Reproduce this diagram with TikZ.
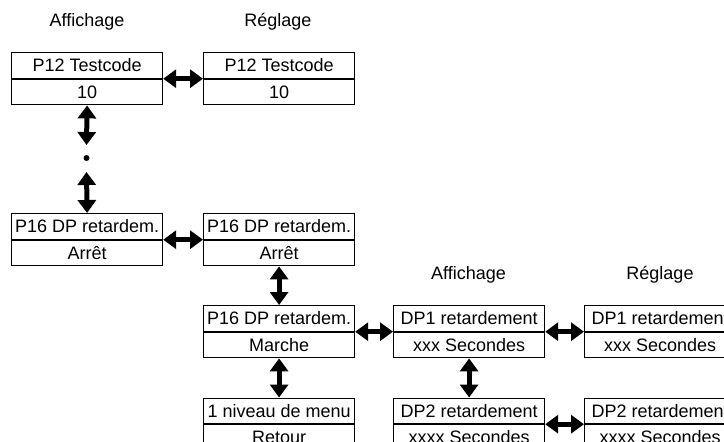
\documentclass[tikz,border=0pt]{standalone}
\usepackage{fontspec}
\setmainfont{Liberation Sans}
\usetikzlibrary{arrows.meta}
\begin{document}
\begin{tikzpicture}[x=1pt,y=-1pt,
  cell/.style={draw, line width=1.2pt, minimum width=151pt, minimum height=25.5pt, inner sep=0pt, font=\fontsize{18}{20}\selectfont},
  lbl/.style={font=\fontsize{18}{20}\selectfont, inner sep=0pt},
  dbl/.style={line width=5pt, {Triangle[width=18pt,length=13pt]}-{Triangle[width=18pt,length=13pt]}}]
\useasboundingbox (0,0) rectangle (724,442);
\clip (0,0) rectangle (724,442);
% headers
\node[lbl] (h1) at (87,22) {Affichage};
\node[lbl] (h2) at (278,22) {Réglage};
\node[lbl] (h3) at (468.5,275) {Affichage};
\node[lbl] (h4) at (660,275) {Réglage};
% boxes
\node[cell, anchor=north west] (a1) at (11,52) {P12 Testcode};
\node[cell, anchor=north] (a1v) at (a1.south) {10};
\node[cell, anchor=north west] (b1) at (203,52) {P12 Testcode};
\node[cell, anchor=north] (b1v) at (b1.south) {10};
\node[cell, anchor=north west] (a2) at (11,213) {P16 DP retardem.};
\node[cell, anchor=north] (a2v) at (a2.south) {Arrêt};
\node[cell, anchor=north west] (b2) at (203,213) {P16 DP retardem.};
\node[cell, anchor=north] (b2v) at (b2.south) {Arrêt};
\node[cell, anchor=north west] (b3) at (203,305) {P16 DP retardem.};
\node[cell, anchor=north] (b3v) at (b3.south) {Marche};
\node[cell, anchor=north west] (b4) at (203,397.5) {1 niveau de menu};
\node[cell, anchor=north] (b4v) at (b4.south) {Retour};
\node[cell, anchor=north west] (c3) at (393,305) {DP1 retardement};
\node[cell, anchor=north] (c3v) at (c3.south) {xxx Secondes};
\node[cell, anchor=north west] (d3) at (584,305) {DP1 retardement};
\node[cell, anchor=north] (d3v) at (d3.south) {xxx Secondes};
\node[cell, anchor=north west] (c4) at (393,397.5) {DP2 retardement};
\node[cell, anchor=north] (c4v) at (c4.south) {xxxx Secondes};
\node[cell, anchor=north west] (d4) at (584,397.5) {DP2 retardement};
\node[cell, anchor=north] (d4v) at (d4.south) {xxxx Secondes};
% dot
\node[circle, fill, inner sep=0pt, minimum size=6pt] (dot) at (86.5,158) {};
\coordinate (t1) at (86.5,145);
\coordinate (t2) at (86.5,172);
% arrows
\draw[dbl] (a1.south east) -- (b1.south west);
\draw[dbl] (a2.south east) -- (b2.south west);
\draw[dbl] (b3.south east) -- (c3.south west);
\draw[dbl] (c3.south east) -- (d3.south west);
\draw[dbl] (c4.south east) -- (d4.south west);
\draw[dbl] (a1v.south) -- (t1);
\draw[dbl] (t2) -- (a2.north);
\draw[dbl] (b2v.south) -- (b3.north);
\draw[dbl] (b3v.south) -- (b4.north);
\draw[dbl] (c3v.south) -- (c4.north);
\end{tikzpicture}
\end{document}
